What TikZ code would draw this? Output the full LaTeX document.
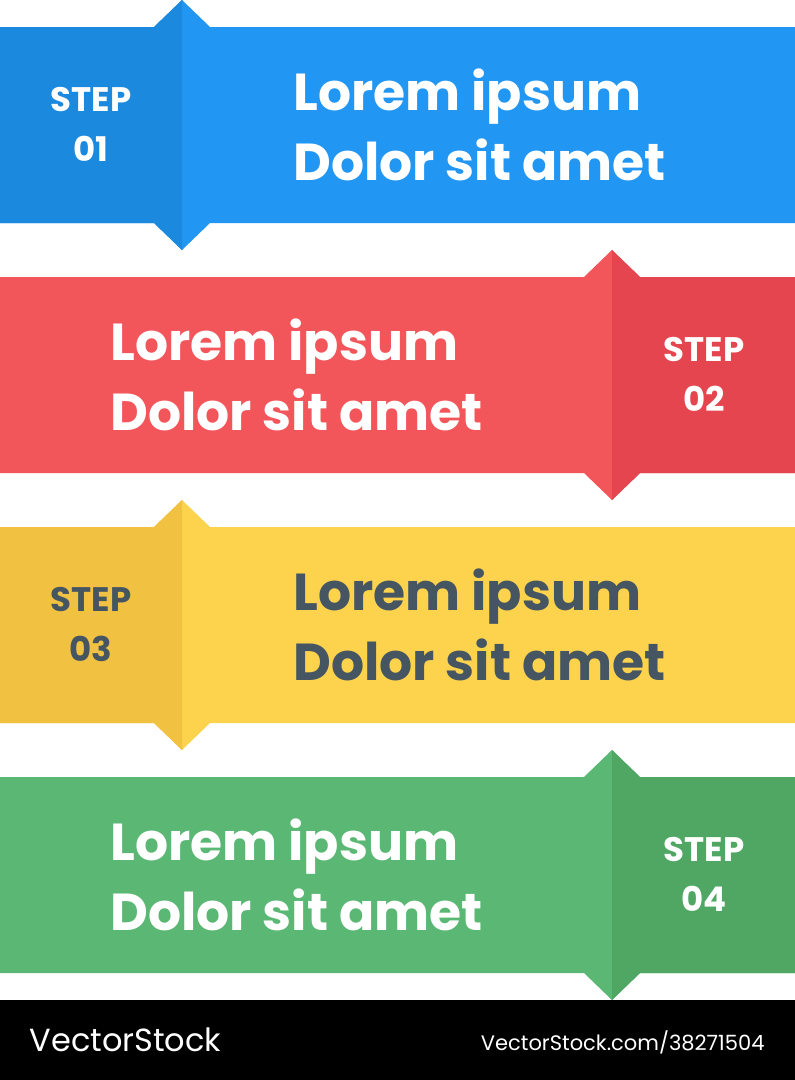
\documentclass[tikz,border=0pt]{standalone}
\usepackage{fontspec}
\setmainfont{Poppins}
\usetikzlibrary{positioning}
\definecolor{blueL}{RGB}{33,150,243}
\definecolor{blueD}{RGB}{27,137,222}
\definecolor{redL}{RGB}{242,86,91}
\definecolor{redD}{RGB}{228,69,79}
\definecolor{yelL}{RGB}{253,211,78}
\definecolor{yelD}{RGB}{241,194,66}
\definecolor{grnL}{RGB}{91,184,116}
\definecolor{grnD}{RGB}{80,167,99}
\definecolor{slate}{RGB}{69,85,97}
\begin{document}
\begin{tikzpicture}[x=1pt,y=-1pt,
    steptext/.style={align=center, font=\fontsize{34}{50}\selectfont\bfseries, inner sep=0pt},
    bodytext/.style={align=left, anchor=west, font=\fontsize{52}{70}\selectfont\bfseries, inner sep=0pt},
    ]
    \useasboundingbox (0,0) rectangle (795,1080);
    \fill[white] (0,0) rectangle (795,1000);

    % Bands, left arrows (x = 182) and right arrows (x = 612)
    \foreach \i/\top/\tipx/\dir/\cl/\cd/\tc in {1/27/182/-1/blueL/blueD/white,
                                                2/277/612/1/redL/redD/white,
                                                3/527/182/-1/yelL/yelD/slate,
                                                4/777/612/1/grnL/grnD/white}{
      \pgfmathsetmacro{\bot}{\top+196}
      \fill[\cl] (0,\top) -- (\tipx-28,\top) -- (\tipx,\top-27) -- (\tipx+28,\top)
                 -- (795,\top) -- (795,\bot) -- (\tipx+28,\bot) -- (\tipx,\bot+27)
                 -- (\tipx-28,\bot) -- (0,\bot) -- cycle;
      \ifnum\dir<0
        \fill[\cd] (0,\top) -- (\tipx-28,\top) -- (\tipx,\top-27) -- (\tipx,\bot+27)
                   -- (\tipx-28,\bot) -- (0,\bot) -- cycle;
        \node[steptext, text=\tc] (step\i) at (91,\top+97) {STEP\\0\i};
        \node[bodytext, text=\tc] (text\i) at (293,\top+98) {Lorem ipsum\\Dolor sit amet};
      \else
        \fill[\cd] (795,\top) -- (\tipx+28,\top) -- (\tipx,\top-27) -- (\tipx,\bot+27)
                   -- (\tipx+28,\bot) -- (795,\bot) -- cycle;
        \node[steptext, text=\tc] (step\i) at (704,\top+97) {STEP\\0\i};
        \node[bodytext, text=\tc] (text\i) at (110,\top+98) {Lorem ipsum\\Dolor sit amet};
      \fi
    }

    % Footer
    \fill[black] (0,1000) rectangle (795,1080);
    \node[anchor=west, text=white, font=\fontsize{32}{36}\selectfont] (brand) at (26,1040) {VectorStock};
    \node[anchor=east, text=white, font=\fontsize{21}{24}\selectfont] (ref) at (768,1042) {VectorStock.com/38271504};
\end{tikzpicture}
\end{document}
